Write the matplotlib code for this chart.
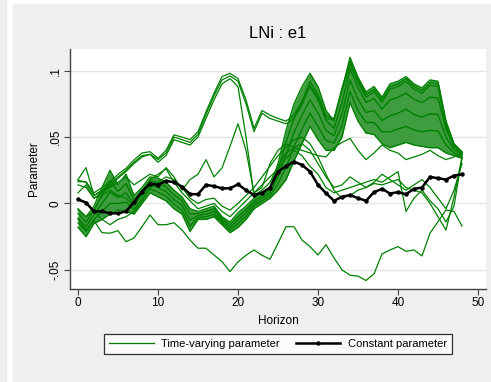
import matplotlib
matplotlib.use("Agg")
import matplotlib.pyplot as plt
from matplotlib.patches import Rectangle
from matplotlib.lines import Line2D

horizon = list(range(49))

constant_param = [0.0032, 0.0006, -0.006, -0.006, -0.0074, -0.0074, -0.006, 0.001, 0.009, 0.015,
                  0.014, 0.017, 0.016, 0.0127, 0.007, 0.007, 0.014, 0.013, 0.0114, 0.0114,
                  0.0144, 0.010, 0.0064, 0.008, 0.012, 0.024, 0.028, 0.0315, 0.029, 0.024,
                  0.014, 0.0077, 0.002, 0.005, 0.0064, 0.004, 0.002, 0.0085, 0.011, 0.0075,
                  0.0085, 0.007, 0.011, 0.012, 0.020, 0.019, 0.018, 0.021, 0.022]

# dense bundle of time-varying estimates (upper edge, quartiles, lower edge)
bundle_top = [-0.004, -0.010, -0.002, 0.012, 0.025, 0.014, 0.022, 0.006, 0.012, 0.020,
              0.019, 0.016, 0.010, 0.005, -0.004, -0.006, -0.004, -0.002, -0.010, -0.014,
              -0.007, -0.002, 0.004, 0.008, 0.012, 0.030, 0.055, 0.075, 0.088, 0.098,
              0.088, 0.070, 0.062, 0.085, 0.110, 0.095, 0.084, 0.088, 0.080, 0.090,
              0.092, 0.0955, 0.090, 0.087, 0.093, 0.092, 0.062, 0.045, 0.039]
bundle_q1 = [-0.0075, -0.014, -0.005, 0.006, 0.017, 0.009, 0.015, 0.0025, 0.009, 0.017,
             0.0155, 0.0125, 0.0065, 0.002, -0.008, -0.0075, -0.006, -0.004, -0.0115, -0.016,
             -0.010, -0.0045, 0.002, 0.006, 0.010, 0.025, 0.046, 0.064, 0.077, 0.088,
             0.078, 0.0625, 0.0565, 0.076, 0.1015, 0.087, 0.076, 0.079, 0.071, 0.078,
             0.080, 0.083, 0.0785, 0.076, 0.080, 0.0795, 0.056, 0.043, 0.038]
bundle_mid = [-0.011, -0.0175, -0.0085, 0.000, 0.0085, 0.0045, 0.008, -0.001, 0.006, 0.014,
              0.012, 0.009, 0.003, -0.0015, -0.0125, -0.009, -0.008, -0.006, -0.013, -0.018,
              -0.0125, -0.007, 0.000, 0.004, 0.008, 0.020, 0.0365, 0.0535, 0.0665, 0.078,
              0.068, 0.055, 0.051, 0.0675, 0.093, 0.0785, 0.0685, 0.070, 0.0625, 0.066,
              0.068, 0.071, 0.067, 0.065, 0.0675, 0.067, 0.050, 0.0405, 0.0365]
bundle_q3 = [-0.0145, -0.021, -0.012, -0.006, 0.000, 0.000, 0.001, -0.0045, 0.003, 0.011,
             0.0085, 0.0055, -0.0005, -0.005, -0.017, -0.0105, -0.010, -0.008, -0.0145, -0.020,
             -0.015, -0.0095, -0.002, 0.002, 0.006, 0.015, 0.027, 0.043, 0.056, 0.068,
             0.058, 0.0475, 0.0455, 0.059, 0.0845, 0.070, 0.061, 0.061, 0.054, 0.054,
             0.056, 0.058, 0.0555, 0.054, 0.055, 0.0545, 0.044, 0.038, 0.035]
bundle_bottom = [-0.018, -0.025, -0.015, -0.012, -0.008, -0.005, -0.006, -0.008, 0.000, 0.008,
                 0.005, 0.002, -0.004, -0.008, -0.021, -0.012, -0.012, -0.010, -0.016, -0.022,
                 -0.018, -0.012, -0.004, 0.000, 0.004, 0.010, 0.018, 0.032, 0.045, 0.058,
                 0.048, 0.040, 0.040, 0.050, 0.076, 0.062, 0.053, 0.052, 0.045, 0.042,
                 0.044, 0.046, 0.044, 0.043, 0.042, 0.042, 0.038, 0.036, 0.034]

tv_high1 = [0.0164, 0.0164, 0.008, 0.012, 0.016, 0.022, 0.0265, 0.0328, 0.038, 0.039,
            0.034, 0.040, 0.0516, 0.050, 0.048, 0.054, 0.069, 0.083, 0.0955, 0.098,
            0.094, 0.078, 0.0566, 0.070, 0.0665, 0.064, 0.062, 0.0665, 0.0767, 0.092,
            0.082, 0.066, 0.064, 0.087, 0.107, 0.093, 0.082, 0.086, 0.078, 0.088,
            0.090, 0.094, 0.088, 0.085, 0.091, 0.090, 0.060, 0.044, 0.038]
tv_high2 = [0.0175, 0.016, 0.006, 0.010, 0.014, 0.020, 0.025, 0.031, 0.036, 0.037,
            0.033, 0.038, 0.050, 0.048, 0.046, 0.052, 0.067, 0.081, 0.093, 0.096,
            0.092, 0.075, 0.054, 0.068, 0.064, 0.062, 0.060, 0.064, 0.074, 0.089,
            0.080, 0.064, 0.063, 0.085, 0.105, 0.091, 0.080, 0.084, 0.076, 0.086,
            0.088, 0.092, 0.086, 0.083, 0.089, 0.088, 0.058, 0.043, 0.037]
tv_high3 = [0.014, 0.012, 0.004, 0.008, 0.013, 0.019, 0.024, 0.030, 0.035, 0.037,
            0.031, 0.036, 0.048, 0.046, 0.044, 0.050, 0.064, 0.078, 0.090, 0.094,
            0.088, 0.050, 0.006, 0.010, 0.016, 0.028, 0.038, 0.042, 0.045, 0.040,
            0.030, 0.020, 0.012, 0.014, 0.020, 0.016, 0.012, 0.016, 0.022, 0.018,
            0.014, 0.010, 0.014, 0.018, 0.012, 0.004, -0.004, 0.010, 0.030]
tv_peak20 = [0.018, 0.027, 0.006, 0.009, 0.012, 0.016, 0.020, 0.014, 0.018, 0.022,
             0.020, 0.027, 0.020, 0.010, 0.018, 0.022, 0.033, 0.020, 0.0267, 0.043,
             0.060, 0.040, 0.008, 0.012, 0.030, 0.040, 0.045, 0.042, 0.040, 0.038,
             0.036, 0.035, 0.042, 0.046, 0.049, 0.040, 0.033, 0.038, 0.044, 0.040,
             0.038, 0.033, 0.035, 0.037, 0.040, 0.036, 0.033, 0.035, 0.038]
tv_mid1 = [-0.005, -0.010, -0.006, -0.012, -0.016, -0.012, -0.010, -0.006, 0.002, 0.012,
           0.016, 0.020, 0.018, 0.012, 0.004, 0.000, 0.003, 0.004, -0.002, -0.005,
           0.000, 0.006, 0.012, 0.020, 0.028, 0.036, 0.042, 0.048, 0.050, 0.045,
           0.035, 0.022, 0.010, 0.004, 0.006, 0.010, 0.012, 0.015, 0.014, 0.016,
           0.018, 0.012, 0.010, 0.008, 0.000, -0.010, -0.020, 0.005, 0.035]
tv_mid2 = [0.008, 0.014, 0.004, 0.006, 0.010, 0.006, 0.004, -0.002, 0.006, 0.018,
           0.022, 0.026, 0.016, 0.008, 0.002, -0.004, -0.002, 0.000, -0.006, -0.010,
           -0.004, 0.002, 0.008, 0.014, 0.020, 0.026, 0.034, 0.040, 0.036, 0.028,
           0.022, 0.012, 0.008, 0.010, 0.012, 0.014, 0.016, 0.018, 0.016, 0.020,
           0.024, -0.006, 0.004, 0.010, 0.002, -0.004, -0.014, -0.002, 0.034]
tv_low = [-0.012, -0.020, -0.013, -0.022, -0.0224, -0.0205, -0.0288, -0.026, -0.0175, -0.0087,
          -0.016, -0.016, -0.0145, -0.020, -0.0275, -0.0337, -0.0337, -0.0388, -0.0438, -0.0513,
          -0.044, -0.039, -0.035, -0.039, -0.042, -0.030, -0.0175, -0.0175, -0.0275, -0.0325,
          -0.0388, -0.031, -0.041, -0.050, -0.054, -0.0547, -0.058, -0.053, -0.038, -0.035,
          -0.0325, -0.036, -0.035, -0.0395, -0.0224, -0.0137, -0.0049, -0.006, -0.017]

bundle_lines = [bundle_top, bundle_q1, bundle_mid, bundle_q3, bundle_bottom]
other_lines = [tv_high1, tv_high2, tv_high3, tv_peak20, tv_mid1, tv_mid2, tv_low]

GREEN = "#008000"
BG = "#efefef"
plt.rcParams["font.family"] = ["Liberation Sans", "DejaVu Sans"]

W, H = 491, 382
fig = plt.figure(figsize=(W / 100, H / 100), dpi=100, facecolor="white")

fig.patches.append(Rectangle((0, 0), 6 / W, 1, transform=fig.transFigure, color=BG, zorder=-10))
fig.patches.append(Rectangle((13 / W, 0), 1 - 13 / W, 1 - 4 / H, transform=fig.transFigure, color=BG, zorder=-10))

ax = fig.add_axes([70 / W, 1 - 289 / H, 416 / W, 240 / H])
ax.set_facecolor("white")
ax.fill_between(horizon, bundle_bottom, bundle_top, color="#3f9d3f", lw=0, zorder=1.5)
for s in bundle_lines:
    ax.plot(horizon, s, color=GREEN, lw=1.0, zorder=2)
for s in other_lines:
    ax.plot(horizon, s, color=GREEN, lw=0.9, zorder=2)
ax.plot(horizon, constant_param, color="black", lw=1.8, marker="o", ms=2.2, zorder=3)

ax.set_xlim(-1, 51)
ax.set_ylim(-0.0644, 0.1163)
ax.set_xticks([0, 10, 20, 30, 40, 50])
ax.set_yticks([-0.05, 0, 0.05, 0.1])
ax.set_yticklabels(["-.05", "0", ".05", ".1"], rotation=90, va="center")
ax.grid(axis="y", color="#e6e6e6", lw=1.0, zorder=0)
ax.set_axisbelow(True)
for sp in ["top", "right"]:
    ax.spines[sp].set_visible(False)
for sp in ["left", "bottom"]:
    ax.spines[sp].set_color("#444444")
    ax.spines[sp].set_linewidth(1.0)
ax.tick_params(length=4, width=0.8, color="#444444", labelsize=8.5, pad=2)
ax.set_xlabel("Horizon", fontsize=8.5, labelpad=4)
ax.set_ylabel("Parameter", fontsize=8.5, labelpad=7)

fig.text(278 / W, 1 - 33 / H, "LNi : e1", ha="center", va="center", fontsize=12)

handles = [Line2D([], [], color=GREEN, lw=0.9),
           Line2D([], [], color="black", lw=1.8, marker="o", ms=2.2)]
leg = fig.legend(handles, ["Time-varying parameter", "Constant parameter"], ncol=2,
                 loc="center", bbox_to_anchor=(278 / W, 1 - 344 / H), frameon=True,
                 fancybox=False, edgecolor="black", fontsize=8, handlelength=4.0,
                 columnspacing=1.4, borderpad=0.45, handletextpad=0.7)
leg.get_frame().set_linewidth(0.9)

fig.savefig("out.png", dpi=100, facecolor="white")
